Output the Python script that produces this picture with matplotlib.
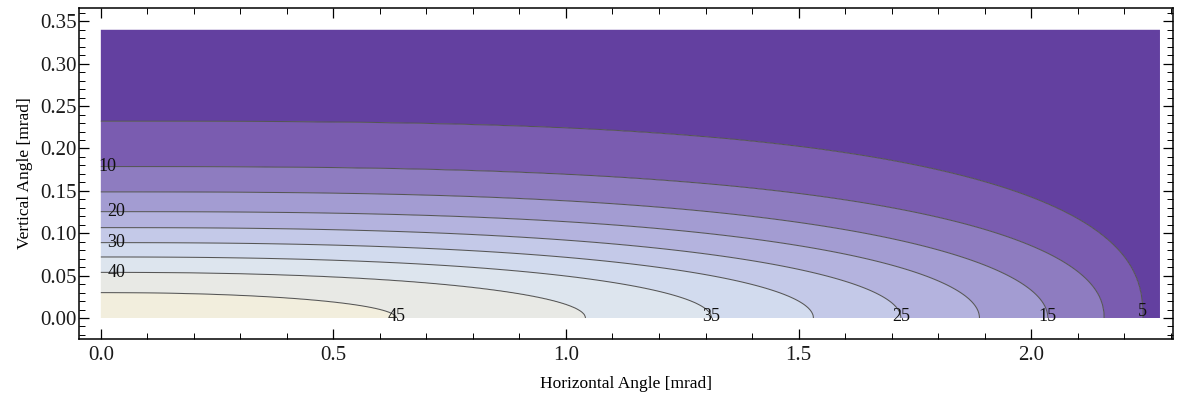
import numpy as np
import matplotlib
matplotlib.use("Agg")
import matplotlib.pyplot as plt
from matplotlib.ticker import MultipleLocator, FixedLocator

# ---- data ----
levels = [5, 10, 15, 20, 25, 30, 35, 40, 45]
# where each contour meets the horizontal axis (y = 0) [mrad]
x_intercepts = [2.240, 2.157, 2.036, 1.889, 1.720, 1.532, 1.313, 1.042, 0.635]
# where each contour meets the vertical axis (x = 0) [mrad]
y_intercepts = [0.2320, 0.1785, 0.1487, 0.1254, 0.1066, 0.0889, 0.0720, 0.0539, 0.0299]
# super-ellipse shape exponents of each contour (horizontal / vertical)
shape_p = [3.1, 2.9, 2.8, 2.7, 2.5, 2.45, 2.35, 2.25, 2.1]
shape_q = [2.5, 2.2, 2.0, 2.0, 2.0, 2.0, 2.0, 2.0, 2.0]
# outer (0) and peak (50) bounds of the field
edge_levels = [0, 50]
edge_x = [2.40, 0.30]
edge_y = [0.340, 0.012]
edge_p = [3.3, 2.0]
edge_q = [2.8, 2.0]

x_range = [0.0, 2.277]
y_range = [0.0, 0.34]

left_labels = [10, 20, 30, 40]
bottom_labels = [45, 35, 25, 15, 5]

band_colors = ["#6340a0", "#7a5cb0", "#8e7cc0", "#a39cd2", "#b4b3de",
               "#c4c9e8", "#d2dbee", "#dde5ee", "#e8e9e5", "#f2eedd"]

# ---- build field from the contour descriptions ----
L_all = np.array([edge_levels[0]] + levels + [edge_levels[1]], float)
a_all = np.array([edge_x[0]] + x_intercepts + [edge_x[1]])
b_all = np.array([edge_y[0]] + y_intercepts + [edge_y[1]])
p_all = np.array([edge_p[0]] + shape_p + [edge_p[1]])
q_all = np.array([edge_q[0]] + shape_q + [edge_q[1]])

xs = np.linspace(x_range[0], x_range[1], 700)
ys = np.linspace(y_range[0], y_range[1], 320)
X, Y = np.meshgrid(xs, ys)

Lf = np.linspace(L_all[0], L_all[-1], 1001)
af = np.interp(Lf, L_all, a_all)
bf = np.interp(Lf, L_all, b_all)
pf = np.interp(Lf, L_all, p_all)
qf = np.interp(Lf, L_all, q_all)

F = np.full(X.shape, float(L_all[-1]))
found = np.zeros(X.shape, bool)
g_prev = None
for k in range(len(Lf)):
    g = (X / af[k]) ** pf[k] + (Y / bf[k]) ** qf[k]
    new = (~found) & (g >= 1)
    if k == 0:
        F[new] = Lf[0]
    else:
        frac = np.clip((1 - g_prev[new]) / np.maximum(g[new] - g_prev[new], 1e-12), 0, 1)
        F[new] = Lf[k - 1] + frac * (Lf[k] - Lf[k - 1])
    found |= new
    g_prev = g

# ---- plot ----
plt.rcParams['font.family'] = ['Liberation Serif', 'DejaVu Serif']
fig = plt.figure(figsize=(11.84, 3.96), dpi=100)
ax = fig.add_axes([0.0667, 0.1439, 0.9240, 0.8359])

fill_levels = [-1] + levels + [51]
ax.contourf(X, Y, F, levels=fill_levels, colors=band_colors, antialiased=True)
ax.contour(X, Y, F, levels=levels, colors='#555555', linewidths=0.75)

lab_kw = dict(fontsize=13, color='#111111', ha='center', va='center')
for lv in left_labels:
    i = levels.index(lv)
    ax.text(0.015 if lv == 10 else 0.033, y_intercepts[i], str(lv), **lab_kw)
for lv in bottom_labels:
    i = levels.index(lv)
    ax.text(x_intercepts[i], 0.008 if lv == 5 else 0.0015, str(lv), **lab_kw)

ax.set_xlim(-0.047, 2.305)
ax.set_ylim(-0.0248, 0.3657)

ax.xaxis.set_major_locator(FixedLocator([0.0, 0.5, 1.0, 1.5, 2.0]))
ax.set_xticklabels(["0.0", "0.5", "1.0", "1.5", "2.0"])
ax.xaxis.set_minor_locator(MultipleLocator(0.1))
yt = [0.0, 0.05, 0.10, 0.15, 0.20, 0.25, 0.30, 0.35]
ax.yaxis.set_major_locator(FixedLocator(yt))
ax.set_yticklabels([f"{v:.2f}" for v in yt])
ax.yaxis.set_minor_locator(MultipleLocator(0.01))

ax.tick_params(which='both', direction='in', top=True, right=True,
               color='black', labelsize=15, labelcolor='#1a1a1a')
ax.tick_params(which='major', length=7, width=0.9)
ax.tick_params(which='minor', length=4, width=0.7)
ax.tick_params(axis='x', which='major', pad=5)
ax.tick_params(axis='y', which='major', pad=1.5)
for s in ax.spines.values():
    s.set_linewidth(1.1)
    s.set_color('black')

ax.set_xlabel("Horizontal Angle [mrad]", fontsize=12.5, labelpad=8)
ax.set_ylabel("Vertical Angle [mrad]", fontsize=12.5, labelpad=5)

fig.savefig("out.png", dpi=100)
